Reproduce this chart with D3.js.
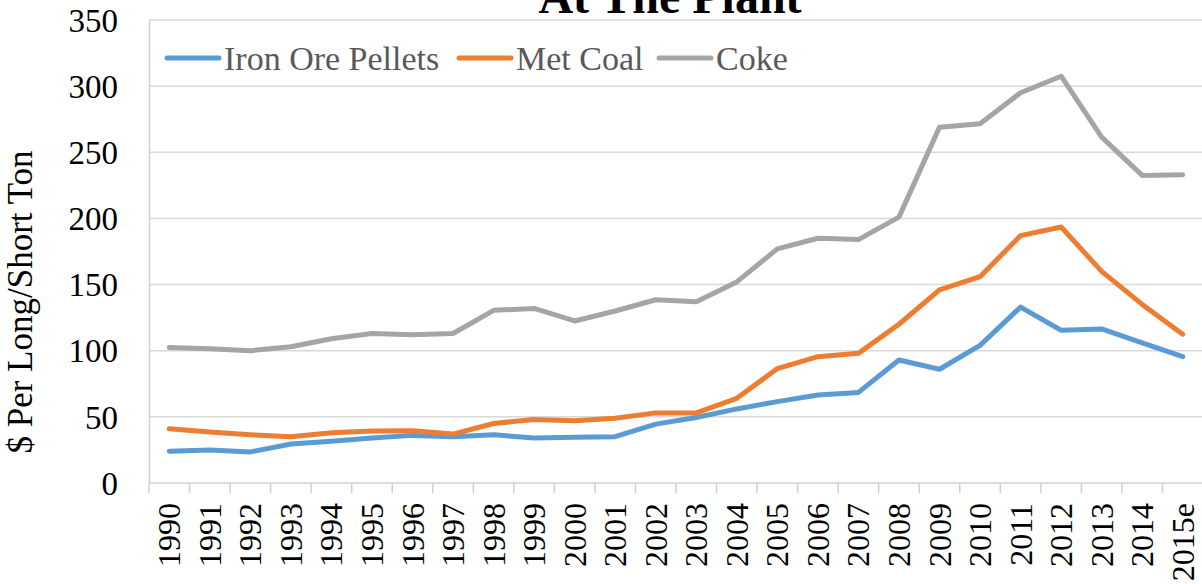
<!DOCTYPE html>
<html>
<head>
<meta charset="utf-8">
<script src="https://cdn.jsdelivr.net/npm/d3@7"></script>
<style>
  html, body { margin: 0; padding: 0; background: #fff; }
  svg { display: block; font-family: "Liberation Serif", "DejaVu Serif", serif; }
</style>
</head>
<body>
<svg id="chart" width="1202" height="584"></svg>
<script>
// categories along the x axis
var years = ["1990", "1991", "1992", "1993", "1994", "1995", "1996", "1997", "1998", "1999",
             "2000", "2001", "2002", "2003", "2004", "2005", "2006", "2007", "2008", "2009",
             "2010", "2011", "2012", "2013", "2014", "2015e"];

// $ per long/short ton
var ironOre = [24, 25, 23.5, 29.5, 31.5, 34, 36, 35, 36.5, 34,
               34.5, 35, 44.5, 49.5, 56, 61.5, 66.5, 68.5, 93, 86,
               104, 133, 115.5, 116.5, 106, 95.5];
var metCoal = [41, 38.5, 36.5, 35, 38, 39.3, 39.5, 37, 45, 48,
               47, 49, 53, 53, 64, 86.5, 95.5, 98, 120, 146,
               156, 187, 193.5, 160, 135, 112.5];
var coke = [102.5, 101.5, 100, 103, 109, 113, 112, 113, 130.5, 132,
            122.5, 130, 138.5, 137, 152, 177, 185, 184, 201, 269,
            271.5, 295, 307.5, 261.5, 232.5, 233];

var yTicks = [0, 50, 100, 150, 200, 250, 300, 350];

var series = [
    {name: "Iron Ore Pellets", values: ironOre, color: "#5b9bd5", legendX: 165},
    {name: "Met Coal", values: metCoal, color: "#ed7d31", legendX: 457},
    {name: "Coke", values: coke, color: "#a5a5a5", legendX: 657}
];

var svg = d3.select("#chart");

var plot = {left: 149, right: 1203, top: 20, bottom: 483};

var x = d3.scaleBand()
          .domain(years)
          .range([plot.left, plot.right])
          .paddingInner(0)
          .paddingOuter(0);
var y = d3.scaleLinear()
          .domain([0, 350])
          .range([plot.bottom, plot.top]);

// horizontal grid lines
svg.append("g")
   .selectAll("line")
   .data(yTicks.filter(function(d) { return d > 0; }))
   .enter()
   .append("line")
   .attr("x1", plot.left)
   .attr("x2", plot.right)
   .attr("y1", function(d) { return y(d); })
   .attr("y2", function(d) { return y(d); })
   .attr("stroke", "#d9d9d9")
   .attr("stroke-width", 1.5);

// left axis with labels
var yAxis = d3.axisLeft(y)
              .tickValues(yTicks)
              .tickSize(0)
              .tickPadding(31);
var yAxisG = svg.append("g")
                .attr("transform", "translate(" + plot.left + ",0)")
                .call(yAxis);
yAxisG.select(".domain").attr("stroke", "#d0d0d0").attr("stroke-width", 1.5);
yAxisG.selectAll("text")
      .attr("font-family", "Liberation Serif, serif")
      .attr("font-size", 33)
      .attr("fill", "#000")
      .attr("dy", "0.34em");

// bottom axis: ticks sit between categories
var xAxisG = svg.append("g")
                .attr("transform", "translate(0," + plot.bottom + ")");
xAxisG.append("line")
      .attr("x1", plot.left)
      .attr("x2", plot.right)
      .attr("y1", 0)
      .attr("y2", 0)
      .attr("stroke", "#d0d0d0")
      .attr("stroke-width", 1.5);
xAxisG.selectAll(".tick-mark")
      .data(years.concat(["end"]))
      .enter()
      .append("line")
      .attr("class", "tick-mark")
      .attr("x1", function(d, i) { return plot.left + i * x.bandwidth(); })
      .attr("x2", function(d, i) { return plot.left + i * x.bandwidth(); })
      .attr("y1", 0)
      .attr("y2", 10)
      .attr("stroke", "#d0d0d0")
      .attr("stroke-width", 1.5);
xAxisG.selectAll(".tick-label")
      .data(years)
      .enter()
      .append("text")
      .attr("class", "tick-label")
      .attr("transform", function(d) {
          return "translate(" + (x(d) + x.bandwidth() / 2 + 11) + ",20) rotate(-90)";
      })
      .attr("text-anchor", "end")
      .attr("font-size", 32)
      .attr("fill", "#000")
      .text(function(d) { return d; });

// lines
var line = d3.line()
             .x(function(d, i) { return x(years[i]) + x.bandwidth() / 2; })
             .y(function(d) { return y(d); });

svg.append("g")
   .selectAll("path")
   .data(series)
   .enter()
   .append("path")
   .attr("d", function(s) { return line(s.values); })
   .attr("fill", "none")
   .attr("stroke", function(s) { return s.color; })
   .attr("stroke-width", 5)
   .attr("stroke-linejoin", "round")
   .attr("stroke-linecap", "round");

// legend
var legend = svg.append("g");
var legendItems = legend.selectAll("g")
                        .data(series)
                        .enter()
                        .append("g")
                        .attr("transform", function(s) { return "translate(" + s.legendX + ",58)"; });
legendItems.append("line")
           .attr("x1", 2)
           .attr("x2", 54)
           .attr("stroke", function(s) { return s.color; })
           .attr("stroke-width", 5)
           .attr("stroke-linecap", "round");
legendItems.append("text")
           .attr("x", 59)
           .attr("dy", "0.34em")
           .attr("font-size", 34)
           .attr("fill", "#595959")
           .text(function(s) { return s.name; });

// y axis title
svg.append("text")
   .attr("transform", "translate(32,302) rotate(-90)")
   .attr("text-anchor", "middle")
   .attr("font-size", 35)
   .attr("fill", "#000")
   .text("$ Per Long/Short Ton");

// chart title, cut off by the top edge as in the original
svg.append("text")
   .attr("x", 670)
   .attr("y", 13)
   .attr("text-anchor", "middle")
   .attr("font-size", 48)
   .attr("font-weight", "bold")
   .attr("fill", "#000")
   .text("At The Plant");
</script>
</body>
</html>
